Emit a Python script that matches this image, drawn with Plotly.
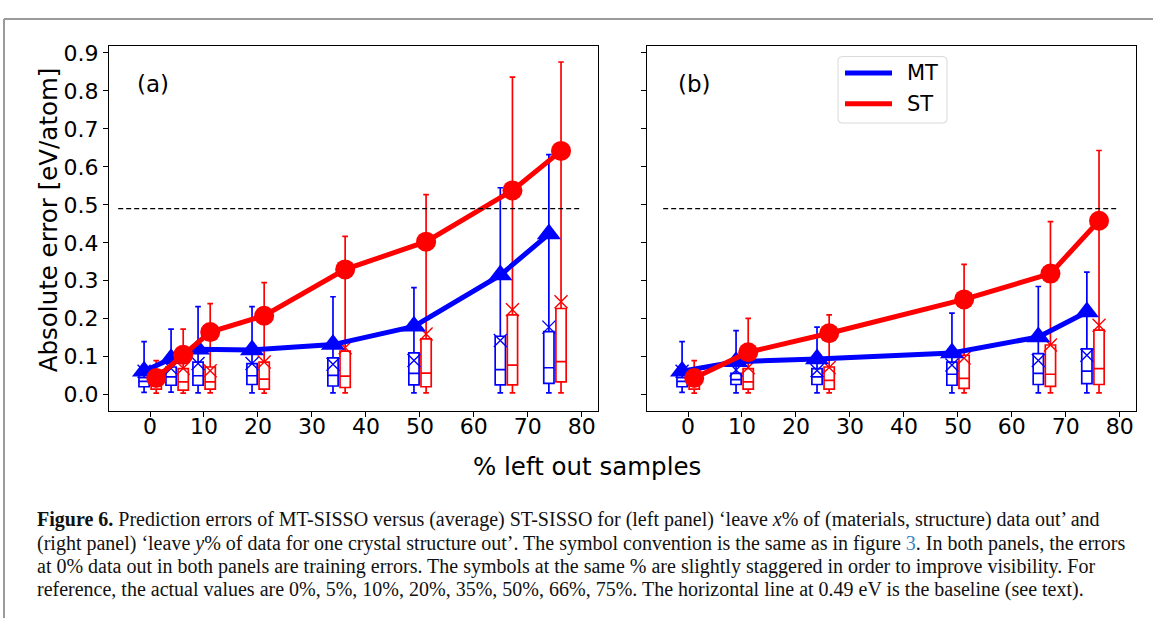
import plotly.graph_objects as go

W, H = 1153, 618

# ---------------- data ----------------
x_left = [0, 5, 10, 20, 35, 50, 66, 75]
x_right = [0, 10, 25, 50, 66, 75]
off_mt, off_st = -1.1, 1.15

# left panel (a)
a_mt_line = [0.062, 0.095, 0.12, 0.118, 0.132, 0.18, 0.315, 0.423]
a_st_line = [0.044, 0.105, 0.165, 0.208, 0.33, 0.403, 0.538, 0.642]
a_mt_max = [0.14, 0.173, 0.232, 0.232, 0.258, 0.282, 0.545, 0.632]
a_st_max = [0.09, 0.173, 0.24, 0.295, 0.417, 0.527, 0.836, 0.876]
a_mt_min = [0.006, 0.007, 0.005, 0.005, 0.005, 0.005, 0.005, 0.005]
a_st_min = [0.004, 0.004, 0.005, 0.004, 0.005, 0.005, 0.005, 0.005]
a_mt_q1 = [0.021, 0.025, 0.025, 0.027, 0.023, 0.026, 0.026, 0.03]
a_mt_med = [0.035, 0.047, 0.05, 0.05, 0.051, 0.056, 0.066, 0.071]
a_mt_q3 = [0.045, 0.073, 0.086, 0.082, 0.097, 0.11, 0.154, 0.166]
a_mt_mean = [0.062, 0.069, 0.082, 0.082, 0.08, 0.09, 0.143, 0.178]
a_st_q1 = [0.015, 0.012, 0.015, 0.015, 0.019, 0.021, 0.026, 0.034]
a_st_med = [0.03, 0.034, 0.034, 0.041, 0.049, 0.057, 0.078, 0.087]
a_st_q3 = [0.045, 0.069, 0.073, 0.086, 0.115, 0.147, 0.21, 0.227]
a_st_mean = [0.05, 0.07, 0.063, 0.086, 0.124, 0.16, 0.224, 0.245]

# right panel (b)
b_mt_line = [0.062, 0.087, 0.094, 0.11, 0.152, 0.218]
b_st_line = [0.044, 0.112, 0.162, 0.251, 0.319, 0.458]
b_mt_max = [0.14, 0.169, 0.178, 0.215, 0.285, 0.323]
b_st_max = [0.09, 0.201, 0.21, 0.343, 0.456, 0.643]
b_mt_min = [0.006, 0.005, 0.005, 0.005, 0.005, 0.005]
b_st_min = [0.004, 0.005, 0.005, 0.005, 0.005, 0.005]
b_mt_q1 = [0.021, 0.027, 0.027, 0.025, 0.027, 0.029]
b_mt_med = [0.035, 0.04, 0.047, 0.054, 0.056, 0.062]
b_mt_q3 = [0.045, 0.056, 0.069, 0.086, 0.108, 0.121]
b_mt_mean = [0.062, 0.065, 0.064, 0.078, 0.09, 0.104]
b_st_q1 = [0.015, 0.015, 0.015, 0.017, 0.022, 0.027]
b_st_med = [0.03, 0.034, 0.038, 0.043, 0.054, 0.069]
b_st_q3 = [0.045, 0.069, 0.073, 0.104, 0.131, 0.17]
b_st_mean = [0.05, 0.072, 0.072, 0.097, 0.131, 0.183]

baseline = 0.49
x_ticks = [0, 10, 20, 30, 40, 50, 60, 70, 80]
y_ticks = [0.0, 0.1, 0.2, 0.3, 0.4, 0.5, 0.6, 0.7, 0.8, 0.9]
legend_names = ["MT", "ST"]

BLUE, RED = "#0000ff", "#ff0000"

fig = go.Figure()


def add_panel(xs, mt_line, st_line, mt_box, st_box, mt_mean, st_mean, xa, ya):
    pos_mt = [v + off_mt for v in xs]
    pos_st = [v + off_st for v in xs]
    for pos, (q1, med, q3, lo, hi), col in ((pos_mt, mt_box, BLUE), (pos_st, st_box, RED)):
        fig.add_trace(go.Box(
            x=pos, q1=q1, median=med, q3=q3, lowerfence=lo, upperfence=hi,
            width=1.9, whiskerwidth=0.55, boxpoints=False,
            line=dict(color=col, width=1.7), fillcolor="rgba(0,0,0,0)",
            xaxis=xa, yaxis=ya, showlegend=False, hoverinfo="skip"))
    for pos, mean, col in ((pos_mt, mt_mean, BLUE), (pos_st, st_mean, RED)):
        fig.add_trace(go.Scatter(
            x=pos, y=mean, mode="markers",
            marker=dict(symbol="x-thin", size=13, line=dict(color=col, width=1.4)),
            xaxis=xa, yaxis=ya, showlegend=False, hoverinfo="skip"))
    fig.add_trace(go.Scatter(
        x=pos_mt, y=mt_line, mode="lines+markers",
        line=dict(color=BLUE, width=5),
        marker=dict(symbol="triangle-up", size=21, color=BLUE),
        xaxis=xa, yaxis=ya, showlegend=False, hoverinfo="skip"))
    fig.add_trace(go.Scatter(
        x=pos_st, y=st_line, mode="lines+markers",
        line=dict(color=RED, width=5),
        marker=dict(symbol="circle", size=20, color=RED),
        xaxis=xa, yaxis=ya, showlegend=False, hoverinfo="skip"))


add_panel(x_left, a_mt_line, a_st_line,
          (a_mt_q1, a_mt_med, a_mt_q3, a_mt_min, a_mt_max),
          (a_st_q1, a_st_med, a_st_q3, a_st_min, a_st_max),
          a_mt_mean, a_st_mean, "x", "y")
add_panel(x_right, b_mt_line, b_st_line,
          (b_mt_q1, b_mt_med, b_mt_q3, b_mt_min, b_mt_max),
          (b_st_q1, b_st_med, b_st_q3, b_st_min, b_st_max),
          b_mt_mean, b_st_mean, "x2", "y2")

# baselines
fig.add_trace(go.Scatter(x=[-5.9, 80.0], y=[baseline, baseline], mode="lines",
                         line=dict(color="black", width=1.1, dash="5px,3px"),
                         xaxis="x", yaxis="y", showlegend=False, hoverinfo="skip"))
fig.add_trace(go.Scatter(x=[-4.6, 79.7], y=[baseline, baseline], mode="lines",
                         line=dict(color="black", width=1.1, dash="5px,3px"),
                         xaxis="x2", yaxis="y2", showlegend=False, hoverinfo="skip"))

xr = [-7.6, 83.0]
yr = [-0.042, 0.919]
ydom = [1 - 409 / H, 1 - 41 / H]
tickfont = dict(family="DejaVu Sans", size=22, color="black")
common_x = dict(range=xr, tickvals=x_ticks, ticks="outside", ticklen=5, tickwidth=1,
                tickcolor="black", showline=True, linecolor="black", linewidth=1,
                mirror=True, showgrid=False, zeroline=False, tickfont=tickfont,
                ticklabelstandoff=-9)
common_y = dict(range=yr, tickvals=y_ticks, tickformat=".1f", ticks="outside",
                ticklen=5, tickwidth=1,
                tickcolor="black", showline=True, linecolor="black", linewidth=1,
                mirror=True, showgrid=False, zeroline=False, tickfont=tickfont,
                domain=ydom)

ann = []
ann.append(dict(text="(a)", x=153 / W, y=1 - 80 / H, xref="paper", yref="paper",
                showarrow=False, xanchor="center", yanchor="middle",
                font=dict(family="DejaVu Sans", size=23, color="black")))
ann.append(dict(text="(b)", x=694 / W, y=1 - 80 / H, xref="paper", yref="paper",
                showarrow=False, xanchor="center", yanchor="middle",
                font=dict(family="DejaVu Sans", size=23, color="black")))
ann.append(dict(text="Absolute error [eV/atom]", x=48 / W, y=1 - 217 / H,
                xref="paper", yref="paper", showarrow=False, textangle=-90,
                xanchor="center", yanchor="middle",
                font=dict(family="DejaVu Sans", size=24.5, color="black")))
ann.append(dict(text="% left out samples", x=587 / W, y=1 - 465 / H,
                xref="paper", yref="paper", showarrow=False,
                xanchor="center", yanchor="middle",
                font=dict(family="DejaVu Sans", size=24.5, color="black")))

# manual legend (lines only, as in the reference)
leg_y = [68.5, 99.5]
for name, col, yy in zip(legend_names, [BLUE, RED], leg_y):
    ann.append(dict(text=name, x=905 / W, y=1 - yy / H, xref="paper", yref="paper",
                    showarrow=False, xanchor="left", yanchor="middle",
                    font=dict(family="DejaVu Sans", size=21, color="black")))

cap_lines = [
    "<b>Figure 6.</b> Prediction errors of MT-SISSO versus (average) ST-SISSO for (left panel) \u2018leave <i>x</i>% of (materials, structure) data out\u2019 and",
    "(right panel) \u2018leave <i>y</i>% of data for one crystal structure out\u2019. The symbol convention is the same as in figure <span style='color:#3a86c8'>3</span>. In both panels, the errors",
    "at 0% data out in both panels are training errors. The symbols at the same % are slightly staggered in order to improve visibility. For",
    "reference, the actual values are 0%, 5%, 10%, 20%, 35%, 50%, 66%, 75%. The horizontal line at 0.49 eV is the baseline (see text).",
]
cap_y = [519, 542.5, 566, 589.5]
for t, yy in zip(cap_lines, cap_y):
    ann.append(dict(text=t, x=35 / W, y=1 - yy / H, xref="paper", yref="paper",
                    showarrow=False, xanchor="left", yanchor="middle", align="left",
                    font=dict(family="Liberation Serif", size=20, color="#111111")))


def px(x):
    return x / W


def py(y):
    return 1 - y / H


# rounded legend frame
x0, x1, y0, y1, r = 838, 947, 52, 119, 4
path = (f"M {px(x0 + r)},{py(y0)} L {px(x1 - r)},{py(y0)} "
        f"Q {px(x1)},{py(y0)} {px(x1)},{py(y0 + r)} L {px(x1)},{py(y1 - r)} "
        f"Q {px(x1)},{py(y1)} {px(x1 - r)},{py(y1)} L {px(x0 + r)},{py(y1)} "
        f"Q {px(x0)},{py(y1)} {px(x0)},{py(y1 - r)} L {px(x0)},{py(y0 + r)} "
        f"Q {px(x0)},{py(y0)} {px(x0 + r)},{py(y0)} Z")

shapes = [
    dict(type="line", xref="paper", yref="paper", x0=4 / W, x1=1.0,
         y0=1 - 14 / H, y1=1 - 14 / H, line=dict(color="#9a9a9a", width=2)),
    dict(type="line", xref="paper", yref="paper", x0=4 / W, x1=4 / W,
         y0=1 - 14 / H, y1=0, line=dict(color="#9a9a9a", width=2)),
    dict(type="path", xref="paper", yref="paper", path=path,
         fillcolor="rgba(255,255,255,0.85)", line=dict(color="#d8d8d8", width=1),
         layer="above"),
]
for col, yy in zip([BLUE, RED], leg_y):
    shapes.append(dict(type="line", xref="paper", yref="paper",
                       x0=px(845), x1=px(892), y0=py(yy), y1=py(yy),
                       line=dict(color=col, width=5), layer="above"))

fig.update_layout(
    width=W, height=H, margin=dict(l=0, r=0, t=0, b=0),
    paper_bgcolor="white", plot_bgcolor="white",
    xaxis=dict(domain=[109 / W, 598 / W], anchor="y", **common_x),
    yaxis=dict(anchor="x", **common_y),
    xaxis2=dict(domain=[647 / W, 1136 / W], anchor="y2", **common_x),
    yaxis2=dict(anchor="x2", showticklabels=False, **common_y),
    boxmode="overlay",
    showlegend=False,
    annotations=ann, shapes=shapes,
)

fig.write_html("out.html")
